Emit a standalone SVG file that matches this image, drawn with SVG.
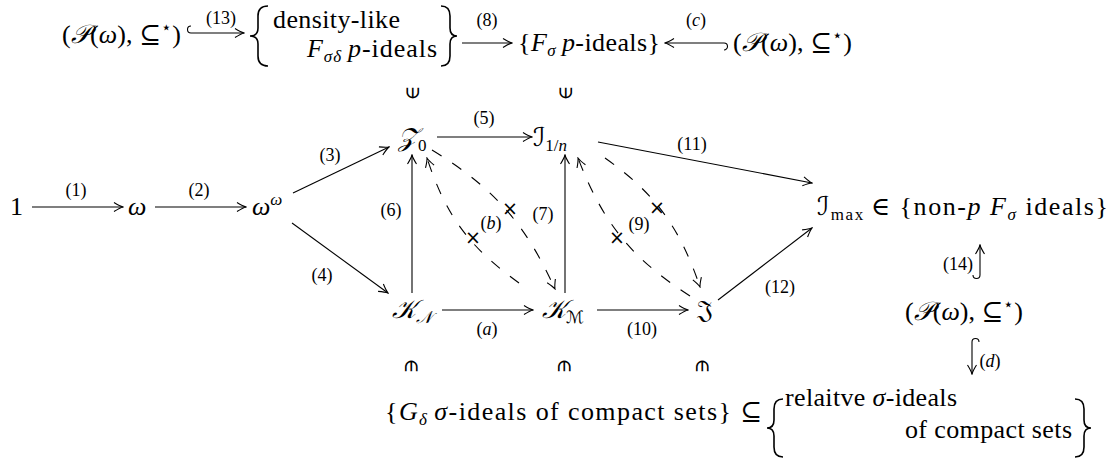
<svg xmlns="http://www.w3.org/2000/svg" width="1114" height="458" viewBox="0 0 1114 458">
<defs>
<style>
text{font-family:'Liberation Serif','DejaVu Serif',serif;fill:#000}
.t{font-size:26px}
.i{font-style:italic}
.s{font-size:17px}
.l{font-size:18px;text-anchor:middle}
.c{font-family:'DejaVu Serif','DejaVu Sans','Noto Sans',serif;font-style:italic}
.e{stroke:#000;stroke-width:1.1;fill:none}
.d{stroke-dasharray:11 13}
.b{stroke:#000;stroke-width:1.6;fill:none}
.x{font-size:19px;text-anchor:middle;font-family:'DejaVu Sans',sans-serif}
.r{font-size:20px;text-anchor:middle;font-family:'DejaVu Serif',serif}
</style>
<marker id="ah" viewBox="-11 -6 12 12" refX="0" refY="0" markerWidth="12" markerHeight="12" markerUnits="userSpaceOnUse" orient="auto">
<path d="M-9,-4.5 Q-3,-0.8 0,0 Q-3,0.8 -9,4.5" fill="none" stroke="#000" stroke-width="1.1"/>
</marker>
</defs>
<rect width="1114" height="458" fill="#fff"/>

<g id="top-row">
<g id="n-pw-top-left"><text class="t" x="62" y="43" textLength="119" lengthAdjust="spacing">(<tspan class="c">𝒫</tspan>(<tspan class="i">ω</tspan>), ⊆<tspan class="s" dy="-10">⋆</tspan><tspan dy="10">)</tspan></text></g>
<g id="n-density">
<path class="b" d="M268,6 Q258,6 258,16 L258,28 Q258,36 250,36 Q258,36 258,44 L258,56 Q258,66 268,66"/>
<text class="t" x="273" y="28" textLength="127" lengthAdjust="spacing">density-like</text>
<text class="t" x="307" y="57" textLength="130" lengthAdjust="spacing"><tspan class="i">F</tspan><tspan class="s i" dy="5">σδ</tspan><tspan class="i" dx="6" dy="-5">p</tspan>-ideals</text>
<path class="b" d="M441,6 Q450,6 450,16 L450,28 Q450,36 457,36 Q450,36 450,44 L450,56 Q450,66 441,66"/>
</g>
<g id="n-fsigma"><text class="t" x="518" y="51" textLength="142" lengthAdjust="spacing">{<tspan class="i">F</tspan><tspan class="s i" dy="5">σ</tspan><tspan class="i" dx="6" dy="-5">p</tspan>-ideals}</text></g>
<g id="n-pw-top-right"><text class="t" x="733" y="51" textLength="119" lengthAdjust="spacing">(<tspan class="c">𝒫</tspan>(<tspan class="i">ω</tspan>), ⊆<tspan class="s" dy="-10">⋆</tspan><tspan dy="10">)</tspan></text></g>
</g>

<g id="memberships">
<text class="r" transform="translate(412,93) rotate(-90)" dominant-baseline="central">∈</text>
<text class="r" transform="translate(565,93) rotate(-90)" dominant-baseline="central">∈</text>
<text class="r" transform="translate(412,366) rotate(90)" dominant-baseline="central">∈</text>
<text class="r" transform="translate(565,366) rotate(90)" dominant-baseline="central">∈</text>
<text class="r" transform="translate(703,366) rotate(90)" dominant-baseline="central">∈</text>
</g>

<g id="n-one"><text class="t" x="10" y="215">1</text></g>
<g id="n-omega"><text class="t i" x="128" y="215">ω</text></g>
<g id="n-omega-omega"><text class="t i" x="252" y="215">ω<tspan class="s" dy="-10">ω</tspan></text></g>
<g id="n-z0"><text class="t" x="398" y="146"><tspan class="c">𝒵</tspan><tspan class="s" dy="5">0</tspan></text></g>
<g id="n-i1n"><text class="t" x="533" y="146"><tspan class="c">ℐ</tspan><tspan class="s" dy="5">1/<tspan class="i">n</tspan></tspan></text></g>
<g id="n-imax"><text class="t" x="817" y="215" textLength="291" lengthAdjust="spacing"><tspan class="c">ℐ</tspan><tspan class="s" dy="5">max</tspan><tspan dx="6" dy="-5">∈</tspan> {non-<tspan class="i">p</tspan> <tspan class="i">F</tspan><tspan class="s i" dy="5">σ</tspan><tspan dy="-5"> ideals}</tspan></text></g>
<g id="n-kn"><text class="t" x="392" y="318"><tspan class="c">𝒦</tspan><tspan class="s c" dy="5">𝒩</tspan></text></g>
<g id="n-km"><text class="t" x="542" y="318"><tspan class="c">𝒦</tspan><tspan class="s c" dy="5">ℳ</tspan></text></g>
<g id="n-j"><text class="t" x="697" y="318">𝔍</text></g>
<g id="n-pw-right"><text class="t" x="905" y="320" textLength="118" lengthAdjust="spacing">(<tspan class="c">𝒫</tspan>(<tspan class="i">ω</tspan>), ⊆<tspan class="s" dy="-10">⋆</tspan><tspan dy="10">)</tspan></text></g>
<g id="n-gdelta"><text class="t" x="385" y="420" textLength="377" lengthAdjust="spacing">{<tspan class="i">G</tspan><tspan class="s i" dy="5">δ</tspan><tspan class="i" dx="6" dy="-5">σ</tspan>-ideals of compact sets} ⊆</text></g>
<g id="n-relative">
<path class="b" d="M783,399 Q774,399 774,409 L774,420 Q774,428 767,428 Q774,428 774,436 L774,447 Q774,457 783,457"/>
<text class="t" x="785" y="406" textLength="172" lengthAdjust="spacing">relaitve <tspan class="i">σ</tspan>-ideals</text>
<text class="t" x="905" y="438" textLength="167" lengthAdjust="spacing">of compact sets</text>
<path class="b" d="M1075,399 Q1084,399 1084,409 L1084,420 Q1084,428 1091,428 Q1084,428 1084,436 L1084,447 Q1084,457 1075,457"/>
</g>

<g id="connectors">
<path class="e" d="M191,26 A3.5,3.5 0 0 0 191,33 H244" marker-end="url(#ah)"/>
<text class="l" x="221" y="24">(13)</text>
<path class="e" d="M462,43 H512" marker-end="url(#ah)"/>
<text class="l" x="487" y="26">(8)</text>
<path class="e" d="M724,50 A3.5,3.5 0 0 0 724,43 H665" marker-end="url(#ah)"/>
<text class="l" x="696" y="26">(<tspan class="i">c</tspan>)</text>

<path class="e" d="M32,207 H123" marker-end="url(#ah)"/>
<text class="l" x="76" y="196">(1)</text>
<path class="e" d="M155,207 H246" marker-end="url(#ah)"/>
<text class="l" x="199" y="196">(2)</text>
<path class="e" d="M293,193 L389,147" marker-end="url(#ah)"/>
<text class="l" x="330" y="161">(3)</text>
<path class="e" d="M292,223 L388,293" marker-end="url(#ah)"/>
<text class="l" x="322" y="281">(4)</text>
<path class="e" d="M437,137 H532" marker-end="url(#ah)"/>
<text class="l" x="484" y="124">(5)</text>
<path class="e" d="M412,293 V155" marker-end="url(#ah)"/>
<text class="l" x="391" y="216">(6)</text>
<path class="e" d="M565,293 V155" marker-end="url(#ah)"/>
<text class="l" x="543" y="220">(7)</text>
<path class="e" d="M442,310 H533" marker-end="url(#ah)"/>
<text class="l" x="487" y="335">(<tspan class="i">a</tspan>)</text>
<path class="e" d="M597,310 H688" marker-end="url(#ah)"/>
<text class="l" x="642" y="335">(10)</text>
<path class="e" d="M598,142 L812,183" marker-end="url(#ah)"/>
<text class="l" x="692" y="150">(11)</text>
<path class="e" d="M718,300 L812,228" marker-end="url(#ah)"/>
<text class="l" x="780" y="293">(12)</text>

<path class="e d" d="M432,150 C494,188 525,223 555,289" marker-end="url(#ah)"/>
<path class="e d" d="M519,283 C469,247 446,216 427,158" marker-end="url(#ah)"/>
<text class="x" x="510" y="215">×</text>
<text class="x" x="473" y="244">×</text>
<text class="l" x="491" y="229">(<tspan class="i">b</tspan>)</text>
<path class="e d" d="M605,158 C656,194 680,228 700,287" marker-end="url(#ah)"/>
<path class="e d" d="M690,296 C631,258 603,223 578,158" marker-end="url(#ah)"/>
<text class="x" x="657" y="214">×</text>
<text class="x" x="617" y="244">×</text>
<text class="l" x="639" y="230">(9)</text>

<path class="e" d="M973,275 A3.5,3.5 0 0 0 980,275 V245" marker-end="url(#ah)"/>
<text class="l" x="958" y="270">(14)</text>
<path class="e" d="M979,342 A3.5,3.5 0 0 0 972,342 V374" marker-end="url(#ah)"/>
<text class="l" x="990" y="367">(<tspan class="i">d</tspan>)</text>
</g>
</svg>
